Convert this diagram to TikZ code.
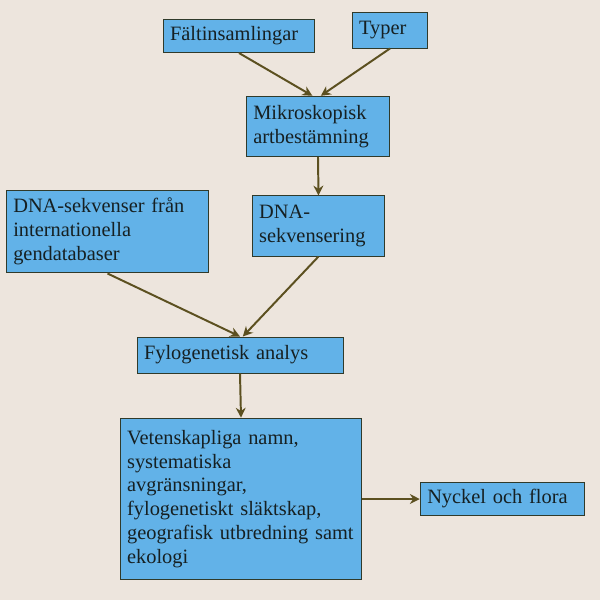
\documentclass[tikz,border=0pt]{standalone}
\usetikzlibrary{arrows.meta}
\usepackage{fontspec}
\setmainfont{Liberation Serif}
\definecolor{slidebg}{RGB}{237,229,221}
\definecolor{boxblue}{RGB}{98,178,232}
\definecolor{boxline}{RGB}{48,58,42}
\definecolor{arrowcol}{RGB}{92,80,32}
\definecolor{txtcol}{RGB}{22,32,34}

\begin{document}
\begin{tikzpicture}[x=0.025cm,y=-0.025cm,line width=0.9pt,>=Stealth,
  box/.style={draw=boxline,line width=0.7pt,fill=boxblue,text=txtcol,
    align=left,inner xsep=5pt,inner ysep=2pt,
    font=\fontsize{14.5}{17}\selectfont},
  flow/.style={->,draw=arrowcol,line width=1.4pt,
    arrows={-Stealth[length=7pt,width=7pt]}}]
% ---------- background ----------
\fill[slidebg] (0,0) rectangle (600,600);
% ---------- boxes ----------
\node[box,text width=98pt,minimum height=23.5pt] (falt) at (239,36) {Fältinsamlingar};
\node[box,text width=44pt,minimum height=25.6pt] (typer) at (390,30) {Typer};
\node[box,text width=92pt,minimum height=43pt] (mikro) at (318,126.5)
  {Mikroskopisk\\artbestämning};
\node[box,text width=134pt,minimum height=59pt] (dnadb) at (107.5,231.5)
  {DNA-sekvenser från\\internationella\\gendatabaser};
\node[box,text width=84.5pt,minimum height=42.7pt] (dnaseq) at (318.5,226)
  {DNA-\\sekvensering};
\node[box,text width=136.5pt,minimum height=25.6pt] (fylo) at (240,355)
  {Fylogenetisk analys};
\node[box,text width=162pt,minimum height=115pt] (result) at (241,499)
  {Vetenskapliga namn,\\systematiska\\avgränsningar,\\fylogenetiskt släktskap,\\geografisk utbredning samt\\ekologi};
\node[box,text width=107pt,minimum height=24pt] (nyckel) at (502.5,499)
  {Nyckel och flora};
% ---------- arrows ----------
\draw[flow] (falt.south) -- ([xshift=-4pt]mikro.north);
\draw[flow] (typer.south) -- ([xshift=2pt]mikro.north);
\draw[flow] (mikro.south) -- (dnaseq.north);
\draw[flow] (dnadb.south) -- (fylo.north);
\draw[flow] (dnaseq.south) -- ([xshift=2pt]fylo.north);
\draw[flow] (fylo.south) -- (result.north);
\draw[flow] (result.east) -- (nyckel.west);
\end{tikzpicture}
\end{document}
